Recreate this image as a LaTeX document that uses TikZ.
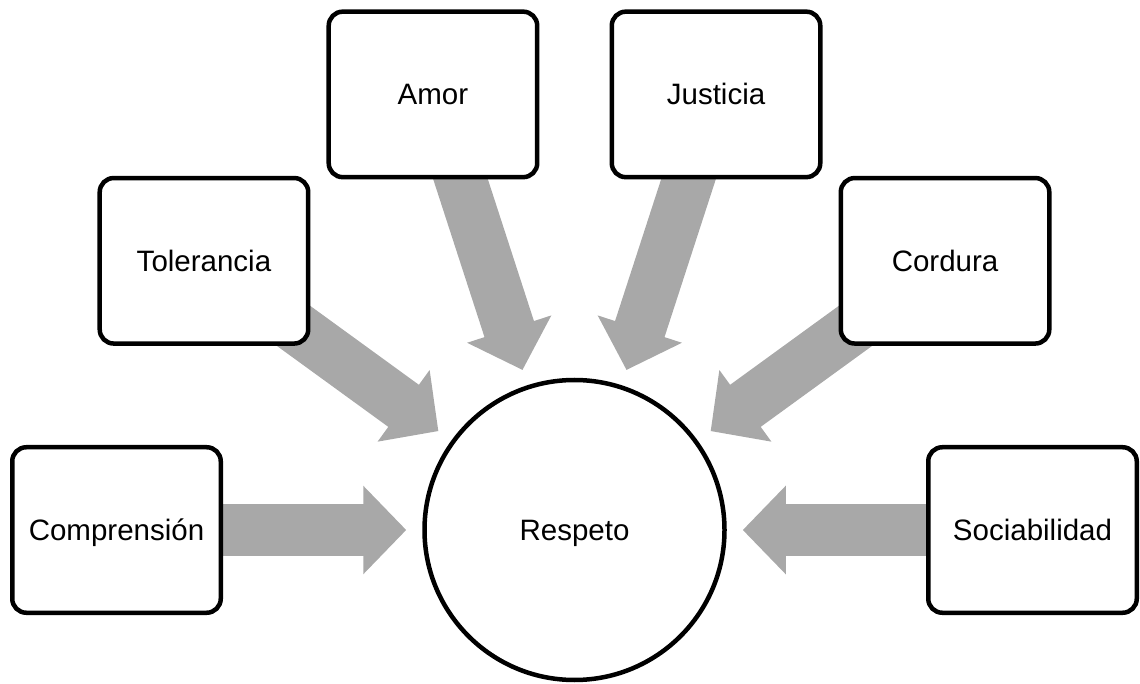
\documentclass[tikz,border=0pt]{standalone}
\usepackage{fontspec}
\setmainfont{Liberation Sans}
\usetikzlibrary{arrows.meta,backgrounds,calc}
\definecolor{arrowgray}{RGB}{168,168,168}
\begin{document}
\begin{tikzpicture}[
        x=1pt, y=1pt,
        value/.style={rectangle, rounded corners=14pt, draw=black, line width=4.5pt, fill=white,
            minimum width=208.5pt, minimum height=165.5pt, inner sep=0pt,
            text height=21pt, text depth=0pt, font=\fontsize{29.5}{35}\selectfont},
        core/.style={circle, draw=black, line width=4.5pt, fill=white, minimum size=300pt,
            inner sep=0pt, text height=21pt, text depth=0pt, font=\fontsize{29.5}{35}\selectfont},
        arrow/.style={-{Triangle[length=43pt, width=86pt]}, arrowgray, line width=52pt, shorten >=16pt}
    ]
    \useasboundingbox (0,0) rectangle (1140,683);
    % Nodes
    \node[core] (R) at (574.5, 153) {Respeto};
    \node[value] (C) at ($(R)+(180:458)$) {Comprensión};
    \node[value] (T) at ($(R)+(144:458)$) {Tolerancia};
    \node[value] (A) at ($(R)+(108:458)$) {Amor};
    \node[value] (J) at ($(R)+(72:458)$) {Justicia};
    \node[value] (D) at ($(R)+(36:458)$) {Cordura};
    \node[value] (S) at ($(R)+(0:458)$) {Sociabilidad};
    % Edges
    \begin{pgfonlayer}{background}
    \draw[arrow] (C.center) -- (R);
    \draw[arrow] (T.center) -- (R);
    \draw[arrow] (A.center) -- (R);
    \draw[arrow] (J.center) -- (R);
    \draw[arrow] (D.center) -- (R);
    \draw[arrow] (S.center) -- (R);
    \end{pgfonlayer}
\end{tikzpicture}
\end{document}
